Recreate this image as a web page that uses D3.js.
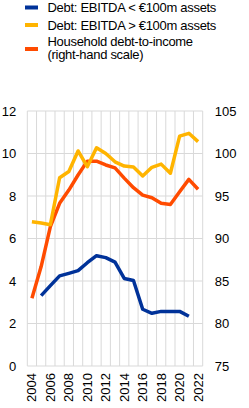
<html>
<head>
  <meta charset="utf8">
  <style>
  * { margin: 0; padding: 0; }
  body { background: #fff; }
  text { font-family: "Liberation Sans", Arial, sans-serif; fill: #000; }
  </style>
</head>
<body>
  <script src="https://cdn.jsdelivr.net/npm/d3@7"></script>
  <script>
  // data
  var years = d3.range(2004, 2023);
  var smallFirms = [null, 3.31, 3.78, 4.24, 4.36, 4.49, 4.86, 5.19, 5.10, 4.89, 4.12, 4.02, 2.67, 2.48, 2.57, 2.57, 2.57, 2.34, null];
  var largeFirms = [6.79, 6.73, 6.65, 8.86, 9.15, 10.12, 9.38, 10.27, 10.0, 9.61, 9.41, 9.36, 8.94, 9.35, 9.5, 9.07, 10.82, 10.95, 10.56];
  var household = [82.97, 86.7, 91.4, 94.14, 95.7, 97.47, 99.1, 99.1, 98.65, 98.3, 97.1, 95.98, 95.1, 94.8, 94.14, 94.0, 95.5, 96.96, 95.8];
  var leftTicks = [0, 2, 4, 6, 8, 10, 12];
  var rightTicks = [75, 80, 85, 90, 95, 100, 105];
  var legendLabels = [["Debt: EBITDA < €100m assets"], ["Debt: EBITDA > €100m assets"], ["Household debt-to-income", "(right-hand scale)"]];
  var colors = ["#003299", "#ffb400", "#ff4b00"];

  var w = 249, h = 408;
  var plotLeft = 27.3, plotRight = 202.7, plotTop = 111, plotBottom = 366;

  var svg = d3.select("body").append("svg")
    .attr("width", w)
    .attr("height", h);

  var x = d3.scaleBand().domain(years).range([plotLeft, plotRight]);
  var yL = d3.scaleLinear().domain([0, 12]).range([plotBottom, plotTop]);
  var yR = d3.scaleLinear().domain([75, 105]).range([plotBottom, plotTop]);

  // gridlines
  var grid = svg.append("g").attr("stroke", "#d9d9d9").attr("stroke-width", 1);
  grid.selectAll(".h").data(leftTicks).enter().append("line")
    .attr("x1", plotLeft).attr("x2", plotRight)
    .attr("y1", function(d) { return yL(d); })
    .attr("y2", function(d) { return yL(d); });
  grid.selectAll(".v").data(years.concat([2023])).enter().append("line")
    .attr("x1", function(d, i) { return plotLeft + i * x.step(); })
    .attr("x2", function(d, i) { return plotLeft + i * x.step(); })
    .attr("y1", plotTop).attr("y2", plotBottom);

  // left axis
  var yAxisL = d3.axisLeft(yL).tickValues(leftTicks).tickSize(0).tickPadding(11);
  svg.append("g").attr("transform", "translate(" + plotLeft + ",0)").call(yAxisL)
    .call(function(g) { g.select(".domain").remove(); })
    .selectAll("text").style("font-size", "13px").style("font-family", "Liberation Sans, Arial");

  // right axis
  var yAxisR = d3.axisRight(yR).tickValues(rightTicks).tickSize(0).tickPadding(12);
  svg.append("g").attr("transform", "translate(" + plotRight + ",0)").call(yAxisR)
    .call(function(g) { g.select(".domain").remove(); })
    .selectAll("text").style("font-size", "13px").style("font-family", "Liberation Sans, Arial");

  // x axis labels (every other year, rotated)
  var xAxis = d3.axisBottom(x).tickValues(years.filter(function(d) { return d % 2 === 0; })).tickSize(0);
  svg.append("g").attr("transform", "translate(0," + plotBottom + ")").call(xAxis)
    .call(function(g) { g.select(".domain").remove(); })
    .selectAll("text")
    .style("font-size", "13px").style("font-family", "Liberation Sans, Arial")
    .attr("transform", "rotate(-90)")
    .attr("text-anchor", "end")
    .attr("x", -7)
    .attr("y", 0)
    .attr("dy", "0.35em");

  // lines
  function cx(d, i) { return x(years[i]) + x.bandwidth() / 2; }
  var lineL = d3.line().defined(function(d) { return d != null; }).x(cx).y(function(d) { return yL(d); });
  var lineR = d3.line().x(cx).y(function(d) { return yR(d); });

  svg.append("path").datum(household).attr("d", lineR)
    .attr("fill", "none").attr("stroke", colors[2]).attr("stroke-width", 3.5).attr("stroke-linejoin", "round");
  svg.append("path").datum(largeFirms).attr("d", lineL)
    .attr("fill", "none").attr("stroke", colors[1]).attr("stroke-width", 3.5).attr("stroke-linejoin", "round");
  svg.append("path").datum(smallFirms).attr("d", lineL)
    .attr("fill", "none").attr("stroke", colors[0]).attr("stroke-width", 3.5).attr("stroke-linejoin", "round");

  // legend
  var legendY = [7.5, 25, 49];
  var lg = svg.append("g");
  legendLabels.forEach(function(lines, i) {
    lg.append("rect").attr("x", 25).attr("y", legendY[i] - 2).attr("width", 13).attr("height", 4).attr("fill", colors[i]);
    var t = lg.append("text").attr("y", lines.length > 1 ? legendY[i] - 7.5 : legendY[i])
      .style("font-size", "13px").style("letter-spacing", "-0.3px");
    lines.forEach(function(s, j) {
      t.append("tspan").attr("x", 47.5).attr("dy", j === 0 ? "0.35em" : "13px").text(s);
    });
  });
  </script>
</body>
</html>
